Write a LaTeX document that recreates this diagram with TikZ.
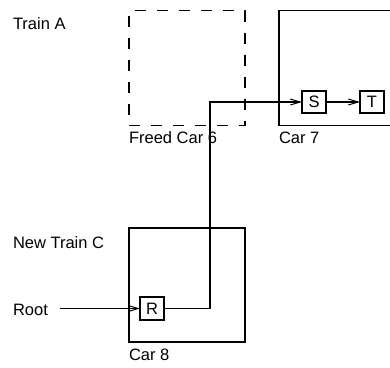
\documentclass[tikz,border=0pt]{standalone}
\usepackage{fontspec}
\setmainfont{Liberation Sans}
\usetikzlibrary{arrows.meta}
\begin{document}
\begin{tikzpicture}[x=1pt,y=-1pt,
  line width=1.1pt,
  every node/.style={font=\fontsize{16.5}{19}\selectfont, inner sep=0pt, outer sep=0pt},
  car/.style={draw, line width=1.1pt, minimum width=116pt, minimum height=115pt},
  item/.style={draw, line width=1.1pt, minimum width=24pt, minimum height=22pt},
  lbl/.style={anchor=base west},
  arr/.style={-{Straight Barb[length=10pt,width=6pt,line width=1pt]}, line width=1.1pt}]
\useasboundingbox (0,0) rectangle (390,367);
\clip (0,0) rectangle (390,367);
% cars
\node[car, dash pattern=on 11pt off 11pt, anchor=north west] (car6) at (129,10.5) {};
\node[car, minimum width=140pt, anchor=north west] (car7) at (279,10.5) {};
\node[car, minimum height=114pt, anchor=north west] (car8) at (129,228) {};
% labels
\node[lbl] (trainA) at (13,29) {Train A};
\node[lbl] (trainC) at (13,248) {New Train C};
\node[lbl] (root) at (13,315) {Root};
\node[lbl] (l6) at (129,143) {Freed Car 6};
\node[lbl] (l7) at (279,143) {Car 7};
\node[lbl] (l8) at (129,360) {Car 8};
% items
\node[item] (S) at (314,102) {S};
\node[item] (T) at (372,102) {T};
\node[item, minimum height=23pt] (R) at (152,308.5) {R};
% connectors
\coordinate (rs) at (60,308.5);
\coordinate (jog) at (210,200);
\draw[arr] (rs) -- (R.west);
\draw[arr] (R.east) -| (jog) |- (S.west);
\draw[arr] (S.east) -- (T.west);
\end{tikzpicture}
\end{document}
